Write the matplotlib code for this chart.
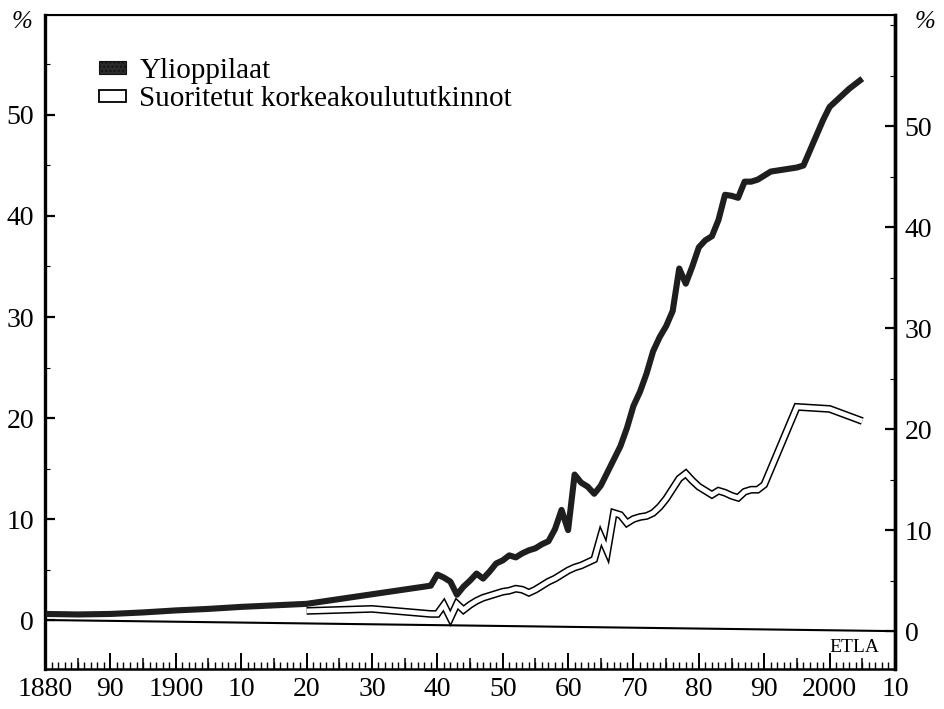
import matplotlib.pyplot as plt
from matplotlib.patches import Patch
from matplotlib.ticker import MultipleLocator

plt.rcParams['font.family'] = ['Liberation Serif', 'DejaVu Serif']

# ylioppilaat, % ikäluokasta
yo_vuodet = [1880, 1885, 1890, 1895, 1900, 1905, 1910, 1915, 1920, 1939,
             1940, 1941, 1942, 1943, 1944, 1945, 1946, 1947, 1948, 1949,
             1950, 1951, 1952, 1953, 1954, 1955, 1956, 1957, 1958, 1959,
             1960, 1961, 1962, 1963, 1964, 1965, 1966, 1967, 1968, 1969,
             1970, 1971, 1972, 1973, 1974, 1975, 1976, 1977, 1978, 1979,
             1980, 1981, 1982, 1983, 1984, 1985, 1986, 1987, 1988, 1989,
             1990, 1991, 1992, 1993, 1994, 1995, 1996, 1997, 1998, 1999,
             2000, 2001, 2002, 2003, 2004, 2005]
yo_osuus = [0.6, 0.55, 0.6, 0.75, 0.95, 1.1, 1.3, 1.45, 1.6, 3.4,
            4.5, 4.2, 3.8, 2.5, 3.3, 3.9, 4.6, 4.1, 4.8, 5.6,
            5.9, 6.4, 6.2, 6.6, 6.9, 7.1, 7.5, 7.8, 9.0, 10.9,
            8.9, 14.4, 13.6, 13.2, 12.5, 13.3, 14.6, 15.9, 17.2, 19.0,
            21.2, 22.6, 24.4, 26.6, 28.0, 29.1, 30.6, 34.8, 33.3, 35.0,
            36.9, 37.6, 38.0, 39.6, 42.1, 42.0, 41.8, 43.4, 43.4, 43.6,
            44.0, 44.4, 44.5, 44.6, 44.7, 44.8, 45.0, 46.5, 48.0, 49.5,
            50.8, 51.4, 52.0, 52.6, 53.1, 53.6]

# suoritetut korkeakoulututkinnot, % ikäluokasta
tk_vuodet = [1920, 1930, 1939, 1940, 1941, 1942, 1943, 1944, 1945, 1946,
             1947, 1948, 1949, 1950, 1951, 1952, 1953, 1954, 1955, 1956,
             1957, 1958, 1959, 1960, 1961, 1962, 1963, 1964, 1965, 1966,
             1967, 1968, 1969, 1970, 1971, 1972, 1973, 1974, 1975, 1976,
             1977, 1978, 1979, 1980, 1981, 1982, 1983, 1984, 1985, 1986,
             1987, 1988, 1989, 1990, 1995, 2000, 2005]
tk_osuus = [0.9, 1.1, 0.6, 0.6, 1.5, 0.2, 1.6, 1.0, 1.5, 1.9,
            2.2, 2.4, 2.6, 2.8, 2.9, 3.1, 3.0, 2.7, 3.0, 3.4,
            3.8, 4.1, 4.5, 4.9, 5.2, 5.4, 5.7, 6.0, 8.3, 6.8,
            10.6, 10.4, 9.6, 10.0, 10.2, 10.3, 10.6, 11.2, 12.0, 13.0,
            14.0, 14.5, 13.8, 13.2, 12.8, 12.4, 12.8, 12.6, 12.3, 12.1,
            12.7, 12.9, 12.9, 13.4, 21.1, 20.9, 19.7]

x_tikit = list(range(1880, 2011, 10))
x_nimet = ['1880', '90', '1900', '10', '20', '30', '40', '50', '60', '70',
           '80', '90', '2000', '10']
y_tikit = [0, 10, 20, 30, 40, 50]

siirto = 1.1  # oikean asteikon nollakohta vasemman asteikon yksiköissä

fig = plt.figure(figsize=(9.44, 7.09), dpi=100)
ax = fig.add_axes([45 / 944, 1 - 669 / 709, 850 / 944, 654 / 709])
ax.set_xlim(1880, 2010)
ax.set_ylim(-4.85, 59.9)

# nollaviiva
ax.plot([1880, 2010], [0, -siirto], color='black', lw=1.5, zorder=2)

# tutkinnot: kaksoisviiva (musta reuna, valkoinen sisus)
ax.plot(tk_vuodet, tk_osuus, color='black', lw=5.6,
        solid_capstyle='butt', solid_joinstyle='miter', zorder=3)
ax.plot(tk_vuodet, tk_osuus, color='white', lw=3.4,
        solid_capstyle='butt', solid_joinstyle='miter', zorder=4)
# ylioppilaat: paksu tumma viiva
ax.plot(yo_vuodet, yo_osuus, color='#1e1e1e', lw=4.4,
        solid_capstyle='butt', solid_joinstyle='round', zorder=5)

for s in ['left', 'right']:
    ax.spines[s].set_linewidth(2.4)
ax.spines['top'].set_linewidth(1.5)
ax.spines['bottom'].set_linewidth(1.8)

ax.set_xticks(x_tikit)
ax.set_xticklabels(x_nimet, fontsize=20)
ax.xaxis.set_minor_locator(MultipleLocator(1))
ax.tick_params(axis='x', which='major', direction='in', length=11.5, width=1.4, pad=6)
ax.tick_params(axis='x', which='minor', direction='in', length=5, width=1.0)

viisi = ax.secondary_xaxis('bottom')
viisi.set_xticks([v + 5 for v in x_tikit[:-1]])
viisi.tick_params(direction='in', length=8, width=1.1, labelbottom=False)
viisi.spines['bottom'].set_visible(False)

ax.set_yticks(y_tikit)
ax.set_yticklabels([str(v) for v in y_tikit], fontsize=20)
ax.yaxis.set_minor_locator(MultipleLocator(5))
ax.tick_params(axis='y', which='major', direction='in', length=7.5, width=1.6, pad=8)
ax.tick_params(axis='y', which='minor', direction='in', length=3.5, width=0.8)

ax2 = ax.twinx()
ax2.set_ylim(-4.85 + siirto, 59.9 + siirto)
ax2.set_yticks(y_tikit)
ax2.set_yticklabels([str(v) for v in y_tikit], fontsize=20)
ax2.yaxis.set_minor_locator(MultipleLocator(5))
ax2.tick_params(axis='y', which='major', direction='in', length=7.5, width=1.6, pad=7)
ax2.tick_params(axis='y', which='minor', direction='in', length=3.5, width=0.8)
ax2.spines['right'].set_linewidth(2.4)

fig.text(22 / 944, 1 - 22 / 709, '%', fontsize=18, style='italic', ha='center', va='center')
fig.text(925 / 944, 1 - 22 / 709, '%', fontsize=18, style='italic', ha='center', va='center')
ax.text(0.982, 0.033, 'ETLA', transform=ax.transAxes, fontsize=14, ha='right', va='center')

kahvat = [Patch(facecolor='#2a2a2a', edgecolor='#111111', lw=0.8, hatch='....'),
          Patch(facecolor='white', edgecolor='black', lw=1.3)]
ax.legend(kahvat, ['Ylioppilaat', 'Suoritetut korkeakoulututkinnot'],
          loc='upper left', bbox_to_anchor=(0.063, 0.934), frameon=False,
          fontsize=21, handlelength=0.95, handleheight=0.28, handletextpad=0.45,
          labelspacing=0.08, borderpad=0, borderaxespad=0)

fig.savefig('out.png', dpi=100)
